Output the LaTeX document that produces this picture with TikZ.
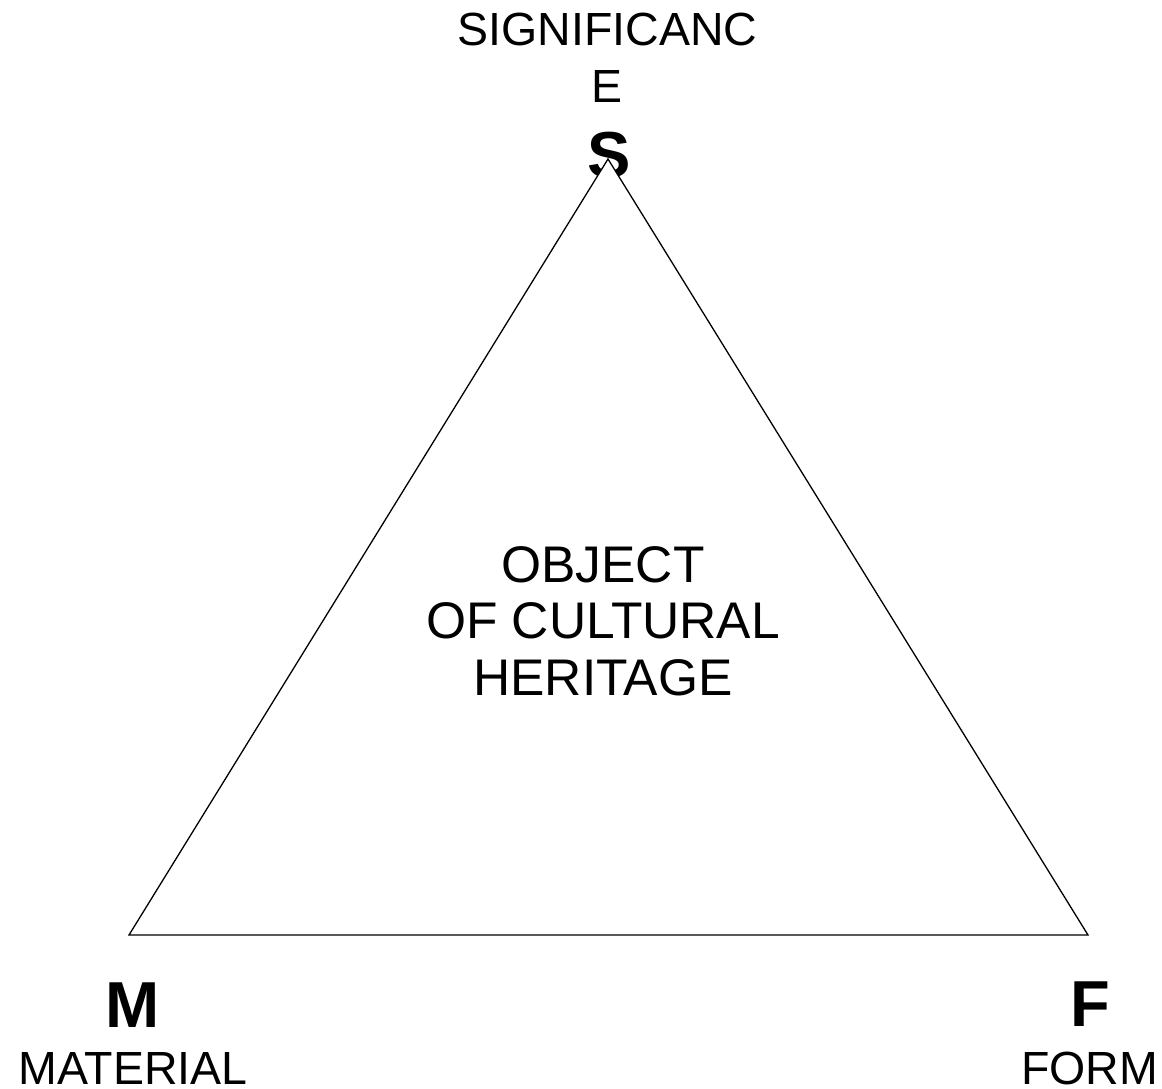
\documentclass[tikz,border=0pt]{standalone}
\usepackage{fontspec}
\setmainfont{Liberation Sans}
\tikzset{
  big/.style={inner sep=0pt, font=\bfseries\fontsize{65}{78}\selectfont},
  lbl/.style={inner sep=0pt, font=\fontsize{46.5}{58}\selectfont, align=center},
  mid/.style={inner sep=0pt, font=\fontsize{51.5}{56.5}\selectfont, align=center},
  tri/.style={draw=black, fill=white, line width=1.3pt}
}
\begin{document}
\begin{tikzpicture}[x=1pt,y=-1pt]
\useasboundingbox (0,0) rectangle (1162,1089);
% labels at vertices
\node[lbl, anchor=base] (sigtext) at (607.5,103) {SIGNIFICANC\\E};
\node[big, anchor=base] (Slab) at (609,178) {S};
\coordinate (Sv) at (608,159);
\coordinate (Mv) at (129,935);
\coordinate (Fv) at (1088,935);
\draw[tri] (Sv) -- (Fv) -- (Mv) -- cycle;
\node[mid, anchor=base] (obj) at (603,695) {OBJECT\\OF CULTURAL\\HERITAGE};
\node[big, anchor=base] (Mlab) at (133,1027) {M};
\node[big, anchor=base] (Flab) at (1090,1026) {F};
\node[lbl, anchor=base] (mat) at (133,1084.5) {MATERIAL};
\node[lbl, anchor=base] (form) at (1089.5,1084.5) {FORM};
\end{tikzpicture}
\end{document}
